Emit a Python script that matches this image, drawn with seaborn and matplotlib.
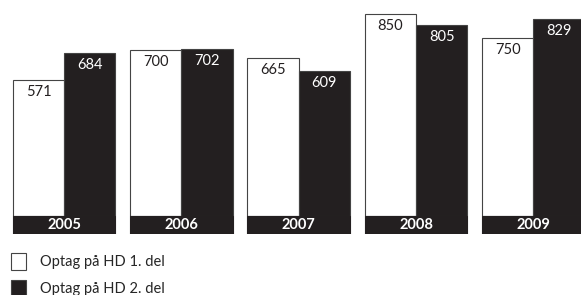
import pandas as pd
import matplotlib.pyplot as plt
import seaborn as sns

years = ["2005", "2006", "2007", "2008", "2009"]
del1 = [571, 700, 665, 850, 750]
del2 = [684, 702, 609, 805, 829]
labels = ["Optag på HD 1. del", "Optag på HD 2. del"]

dark = "#231f20"

df = pd.DataFrame({
    "year": years * 2,
    "optag": del1 + del2,
    "del": [labels[0]] * len(years) + [labels[1]] * len(years),
})

sns.set_style("white")
plt.rcParams["font.family"] = ["Lato", "DejaVu Sans"]

fig = plt.figure(figsize=(5.81, 2.95), dpi=100)
ax = fig.add_axes([0, 61 / 295, 1, 234 / 295])

sns.barplot(data=df, x="year", y="optag", hue="del", palette=["white", dark],
            width=0.875, saturation=1, edgecolor="#444444", linewidth=0.8, ax=ax)

# year band under each group
ax.bar(range(len(years)), -76, width=0.875, color=dark, edgecolor=dark, linewidth=0.8)
for i, y in enumerate(years):
    ax.text(i, -38, y, ha="center", va="center", color="white",
            fontsize=10.5, fontweight="bold")

# values inside the top of each bar
for cont, vals, col in zip(ax.containers[:2], [del1, del2], [dark, "white"]):
    for bar, v in zip(cont, vals):
        ax.annotate(str(v), xy=(bar.get_x() + bar.get_width() / 2, v),
                    xytext=(0, -3.5), textcoords="offset points",
                    ha="center", va="top", color=col, fontsize=10.5)

ax.set_xlim(-0.547, 4.406)
ax.set_ylim(-76, 909)
ax.set_axis_off()

handles, lbls = ax.get_legend_handles_labels()
ax.legend(handles[:2], lbls[:2], loc="upper left", bbox_to_anchor=(11 / 581, 1 - 253 / 295),
          bbox_transform=fig.transFigure, frameon=False, fontsize=10.5,
          handlelength=1.0, handleheight=1.4, handletextpad=1.0,
          labelspacing=0.7, borderaxespad=0, borderpad=0)

fig.savefig("out.png", dpi=100)
